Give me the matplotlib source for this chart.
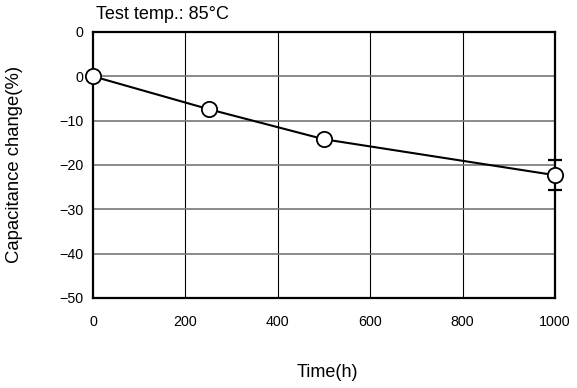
import numpy as np
import matplotlib
matplotlib.use("Agg")
import matplotlib.pyplot as plt

plt.rcParams["font.family"] = ["Liberation Sans", "DejaVu Sans"]

time_h = [0, 250, 500, 1000]
cap_change = [0, -7.4, -14.2, -22.3]
err_low = [0, 0, 0, 3.4]
err_high = [0, 0, 0, 3.4]

x_ticks = [0, 200, 400, 600, 800, 1000]
y_ticks = [10, 0, -10, -20, -30, -40, -50]
y_tick_labels = ["0", "0", "\u221210", "\u221220", "\u221230", "\u221240", "\u221250"]

fig = plt.figure(figsize=(5.77, 3.88), dpi=100)
ax = fig.add_axes([0.1612, 0.232, 0.8007, 0.6856])

ax.set_xlim(0, 1000)
ax.set_ylim(-50, 10)
ax.set_xticks(x_ticks)
ax.set_xticklabels([str(t) for t in x_ticks])
ax.set_yticks(y_ticks)
ax.set_yticklabels(y_tick_labels)
ax.tick_params(length=0, labelsize=10.3)
ax.tick_params(axis="x", pad=12)
ax.tick_params(axis="y", pad=7)

for x in x_ticks[1:-1]:
    ax.axvline(x, color="black", lw=0.8, zorder=1)
for y in y_ticks[1:-1]:
    ax.axhline(y, color="#777777", lw=1.2, zorder=1)

for s in ax.spines.values():
    s.set_linewidth(1.6)

ax.plot(time_h, cap_change, color="black", lw=1.5, zorder=3, clip_on=False)
ax.errorbar(time_h[-1:], cap_change[-1:], yerr=[err_low[-1:], err_high[-1:]],
            fmt="none", ecolor="black", elinewidth=1.5, capsize=5, capthick=1.6,
            zorder=4, clip_on=False)
ax.plot(time_h, cap_change, "o", ms=11, mfc="white", mec="black", mew=1.3,
        zorder=5, clip_on=False)

fig.text(0.166, 0.962, "Test temp.: 85\u00b0C", fontsize=13, va="center", ha="left")
fig.text(0.025, 0.575, "Capacitance change(%)", fontsize=13.3, rotation=90, va="center", ha="center")
fig.text(0.568, 0.041, "Time(h)", fontsize=13, va="center", ha="center")

fig.savefig("out.png", dpi=100, facecolor="white")
